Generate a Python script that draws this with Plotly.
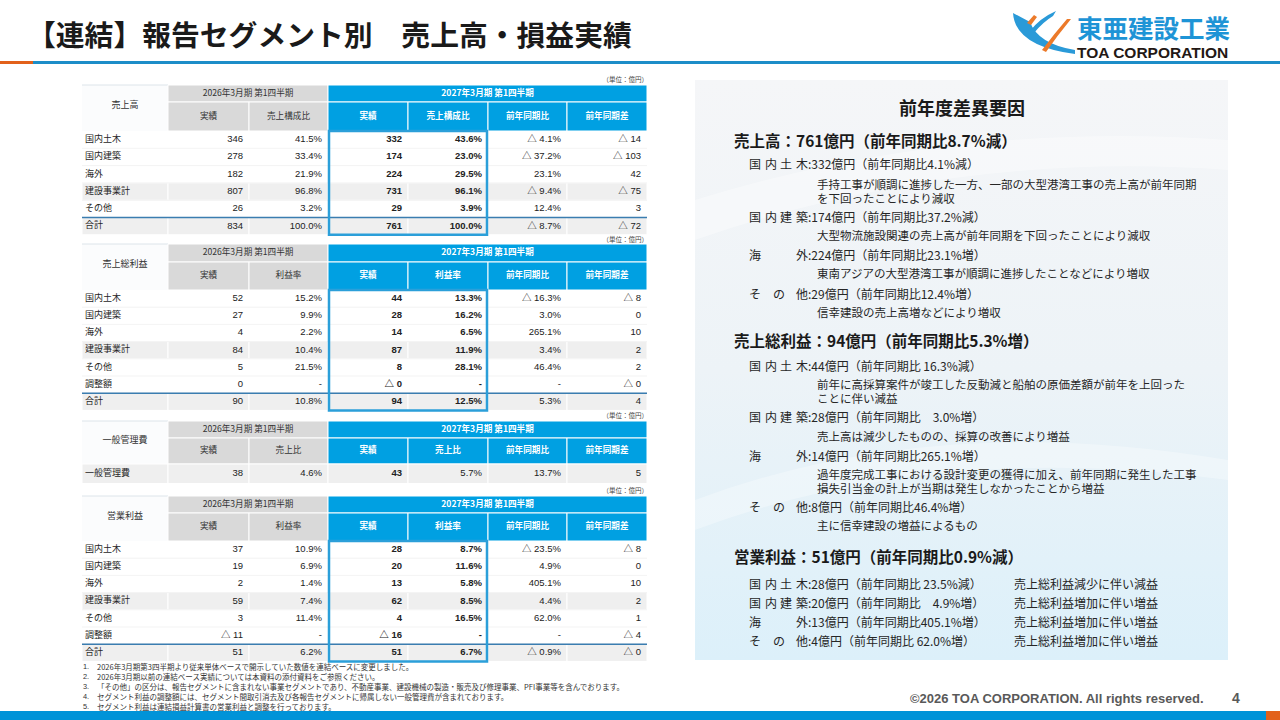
import base64
import math
import plotly.graph_objects as go

JP = 'Noto Sans CJK JP'
NUM = 'Liberation Sans, Arial, Noto Sans CJK JP'

PREV_PERIOD = '2026年3月期 第1四半期'
CUR_PERIOD = '2027年3月期 第1四半期'

# 売上高
sales_rows = ['国内土木', '国内建築', '海外', '建設事業計', 'その他', '合計']
sales_prev = [346, 278, 182, 807, 26, 834]
sales_prev_ratio = [41.5, 33.4, 21.9, 96.8, 3.2, 100.0]
sales_cur = [332, 174, 224, 731, 29, 761]
sales_cur_ratio = [43.6, 23.0, 29.5, 96.1, 3.9, 100.0]
sales_yoy = [-4.1, -37.2, 23.1, -9.4, 12.4, -8.7]
sales_diff = [-14, -103, 42, -75, 3, -72]

# 売上総利益
gp_rows = ['国内土木', '国内建築', '海外', '建設事業計', 'その他', '調整額', '合計']
gp_prev = [52, 27, 4, 84, 5, 0, 90]
gp_prev_margin = [15.2, 9.9, 2.2, 10.4, 21.5, None, 10.8]
gp_cur = [44, 28, 14, 87, 8, -0.0, 94]
gp_cur_margin = [13.3, 16.2, 6.5, 11.9, 28.1, None, 12.5]
gp_yoy = [-16.3, 3.0, 265.1, 3.4, 46.4, None, 5.3]
gp_diff = [-8, 0, 10, 2, 2, -0.0, 4]

# 一般管理費
sga_rows = ['一般管理費']
sga_prev = [38]
sga_prev_ratio = [4.6]
sga_cur = [43]
sga_cur_ratio = [5.7]
sga_yoy = [13.7]
sga_diff = [5]

# 営業利益
op_rows = ['国内土木', '国内建築', '海外', '建設事業計', 'その他', '調整額', '合計']
op_prev = [37, 19, 2, 59, 3, -11, 51]
op_prev_margin = [10.9, 6.9, 1.4, 7.4, 11.4, None, 6.2]
op_cur = [28, 20, 13, 62, 4, -16, 51]
op_cur_margin = [8.7, 11.6, 5.8, 8.5, 16.5, None, 6.7]
op_yoy = [-23.5, 4.9, 405.1, 4.4, 62.0, None, -0.9]
op_diff = [-8, 0, 10, 2, 1, -4, -0.0]

footnotes = [
    '2026年3月期第3四半期より従来単体ベースで開示していた数値を連結ベースに変更しました。',
    '2026年3月期以前の連結ベース実績については本資料の添付資料をご参照ください。',
    '「その他」の区分は、報告セグメントに含まれない事業セグメントであり、不動産事業、建設機械の製造・販売及び修理事業、PFI事業等を含んでおります。',
    'セグメント利益の調整額には、セグメント間取引消去及び各報告セグメントに帰属しない一般管理費が含まれております。',
    'セグメント利益は連結損益計算書の営業利益と調整を行っております。',
]

panel_title = '前年度差異要因'
panel_sections = [
    ('売上高：761億円（前年同期比8.7%減）', 140, [
        ('国内土木', ':332億円（前年同期比4.1%減）', 163,
         ['手持工事が順調に進捗した一方、一部の大型港湾工事の売上高が前年同期', 'を下回ったことにより減収'], [183.5, 197.5]),
        ('国内建築', ':174億円（前年同期比37.2%減）', 216,
         ['大型物流施設関連の売上高が前年同期を下回ったことにより減収'], [235]),
        ('海外', ':224億円（前年同期比23.1%増）', 254,
         ['東南アジアの大型港湾工事が順調に進捗したことなどにより増収'], [273]),
        ('その他', ':29億円（前年同期比12.4%増）', 293,
         ['信幸建設の売上高増などにより増収'], [312]),
    ]),
    ('売上総利益：94億円（前年同期比5.3%増）', 340, [
        ('国内土木', ':44億円（前年同期比 16.3%減）', 365,
         ['前年に高採算案件が竣工した反動減と船舶の原価差額が前年を上回った', 'ことに伴い減益'], [383.5, 397.5]),
        ('国内建築', ':28億円（前年同期比　3.0%増）', 416,
         ['売上高は減少したものの、採算の改善により増益'], [436]),
        ('海外', ':14億円（前年同期比265.1%増）', 455,
         ['過年度完成工事における設計変更の獲得に加え、前年同期に発生した工事', '損失引当金の計上が当期は発生しなかったことから増益'], [474, 488]),
        ('その他', ':8億円（前年同期比46.4%増）', 506,
         ['主に信幸建設の増益によるもの'], [525]),
    ]),
    ('営業利益：51億円（前年同期比0.9%減）', 556, [
        ('国内土木', ':28億円（前年同期比 23.5%減）', 583, ['売上総利益減少に伴い減益'], None),
        ('国内建築', ':20億円（前年同期比　4.9%増）', 602, ['売上総利益増加に伴い増益'], None),
        ('海外', ':13億円（前年同期比405.1%増）', 621, ['売上総利益増加に伴い増益'], None),
        ('その他', ':4億円（前年同期比 62.0%増）', 640, ['売上総利益増加に伴い増益'], None),
    ]),
]

COL_X = [82, 168, 249, 328, 408, 488, 567, 647]
BLUE = '#00a0e2'
HEAD_GRAY = '#d9d9d9'
ROW_GRAY = '#efefef'
BOX_BLUE = '#2b9fd9'
TOTAL_LINE = '#3a7db0'
INK = '#262626'
ORANGE = '#e2611b'

fig = go.Figure()
shapes = []
annotations = []


def box(x0, y0, x1, y1, fill=None, line=None, width=0, layer='below'):
    shapes.append(dict(type='rect', xref='x', yref='y', x0=x0, y0=y0, x1=x1, y1=y1,
                       fillcolor=fill or 'rgba(0,0,0,0)',
                       line=dict(color=line or 'rgba(0,0,0,0)', width=width), layer=layer))


def hline(x0, x1, y, color, width, layer='above'):
    shapes.append(dict(type='line', xref='x', yref='y', x0=x0, x1=x1, y0=y, y1=y,
                       line=dict(color=color, width=width), layer=layer))


def text_trace(xs, ys, texts, pos, size, color=INK, family=JP):
    fig.add_trace(go.Scatter(x=xs, y=ys, text=texts, mode='text', textposition=pos,
                             textfont=dict(size=size, color=color, family=family),
                             hoverinfo='skip', cliponaxis=False, showlegend=False))


def note(x, y, text, size, color=INK, family=JP, anchor='left'):
    annotations.append(dict(x=x, y=y, xref='x', yref='y', text=text, showarrow=False,
                            xanchor=anchor, yanchor='middle', borderpad=0, align='left',
                            font=dict(size=size, color=color, family=family)))


def fmt(v, pct):
    if v is None:
        return '-'
    s = f'{abs(v):.1f}%' if pct else f'{abs(v):.0f}'
    return '△ ' + s if math.copysign(1, v) < 0 else s


tables = [
    dict(label='売上高', sub='売上構成比', rows=sales_rows,
         cols=[sales_prev, sales_prev_ratio, sales_cur, sales_cur_ratio, sales_yoy, sales_diff],
         unit_y=80, top=85, mid=102, head=131, rh=17.3, gray=[3, 5], total=True, boxed=True, bold=[2, 3]),
    dict(label='売上総利益', sub='利益率', rows=gp_rows,
         cols=[gp_prev, gp_prev_margin, gp_cur, gp_cur_margin, gp_yoy, gp_diff],
         unit_y=240, top=244, mid=262, head=290, rh=17.2, gray=[3, 6], total=True, boxed=True, bold=[2, 3]),
    dict(label='一般管理費', sub='売上比', rows=sga_rows,
         cols=[sga_prev, sga_prev_ratio, sga_cur, sga_cur_ratio, sga_yoy, sga_diff],
         unit_y=416, top=421, mid=438, head=464, rh=19.5, gray=[0], total=False, boxed=False, bold=[2]),
    dict(label='営業利益', sub='利益率', rows=op_rows,
         cols=[op_prev, op_prev_margin, op_cur, op_cur_margin, op_yoy, op_diff],
         unit_y=491, top=496, mid=513, head=541, rh=17.2, gray=[3, 6], total=True, boxed=True, bold=[2, 3]),
]
PCT_COLS = [False, True, False, True, True, False]


def draw_table(t):
    cx = COL_X
    top, mid, head, rh = t['top'], t['mid'], t['head'], t['rh']
    n = len(t['rows'])
    bottom = head + n * rh
    text_trace([cx[7] + 1], [t['unit_y']], ['（単位：億円）'], 'middle left', 6.5, '#444444')

    # header cells
    box(cx[0], top, cx[1], head, '#fbfcfd')
    hline(cx[0], cx[1], top, '#dde4ea', 1, 'below')
    box(cx[1], top, cx[3], mid, HEAD_GRAY, 'white', 1)
    box(cx[3], top, cx[7], mid, BLUE, 'white', 1)
    for j in range(1, 7):
        box(cx[j], mid, cx[j + 1], head, HEAD_GRAY if j < 3 else BLUE, 'white', 1)

    # body rows
    centers = [head + (i + 0.5) * rh for i in range(n)]
    for i in range(n):
        y0 = head + i * rh
        if i in t['gray']:
            for j in range(7):
                box(cx[j], y0, cx[j + 1], y0 + rh, ROW_GRAY, 'white', 1)
        if i > 0:
            hline(cx[0], cx[7], y0, '#ebebeb', 0.6, 'below')
    if t['total']:
        hline(cx[0], cx[7], head + (n - 1) * rh, TOTAL_LINE, 1.4)
    if t['boxed']:
        box(cx[3] + 1, head, cx[5] - 1, bottom, line=BOX_BLUE, width=2.5, layer='above')

    # header text
    text_trace([(cx[0] + cx[1]) / 2], [(top + head) / 2 - 2], [t['label']], 'middle center', 9, '#333333')
    text_trace([(cx[1] + cx[3]) / 2, (cx[1] + cx[2]) / 2, (cx[2] + cx[3]) / 2],
               [(top + mid) / 2, (mid + head) / 2, (mid + head) / 2],
               [PREV_PERIOD, '実績', t['sub']], 'middle center', 8.6, '#333333')
    subs = ['実績', t['sub'], '前年同期比', '前年同期差']
    text_trace([(cx[3] + cx[7]) / 2] + [(cx[j] + cx[j + 1]) / 2 for j in range(3, 7)],
               [(top + mid) / 2] + [(mid + head) / 2] * 4,
               ['<b>' + s + '</b>' for s in [CUR_PERIOD] + subs], 'middle center', 8.6, 'white')

    # body text
    text_trace([cx[0] + 3] * n, centers, t['rows'], 'middle right', 9)
    for j, col in enumerate(t['cols']):
        vals = [fmt(v, PCT_COLS[j]) for v in col]
        if j in t['bold']:
            vals = ['<b>' + v + '</b>' for v in vals]
        text_trace([cx[j + 2] - 6] * n, centers, vals, 'middle left', 9.5, '#222222', NUM)


for t in tables:
    draw_table(t)

# footnotes
for k, line in enumerate(footnotes):
    y = 666 + k * 10.2
    note(82, y, f'{k + 1}.', 7.4, '#333333', NUM)
    note(96, y, line, 7.5, '#333333')

# page frame
box(0, 61, 33, 64, ORANGE)
box(33, 61, 1280, 64, '#1c8dc8')
box(0, 711, 1266, 720, '#0093d8')
box(1266, 711, 1280, 720, ORANGE)
note(26, 33, '<b>【連結】報告セグメント別　売上高・損益実績</b>', 28.8, '#1a1a1a')
note(1205, 698, '<b>©2026 TOA CORPORATION. All rights reserved.</b>', 13, '#595959', NUM, 'right')
note(1236, 698, '<b>4</b>', 14, '#595959', NUM, 'center')

# logo
logo_paths = [
    ('M1013,13 Q1015,46 1075,54 L1075,50 Q1038,44 1030,22 Z', '#2a9ad8'),
    ('M1030,31 Q1040,18 1056,11 L1053,16 Q1043,22 1034,33 Z', '#2a9ad8'),
    ('M1046,52 Q1057,36 1071,19 L1067,19 Q1054,34 1042,50 Z', '#ec7a2a'),
    ('M1027,23 L1034,15 L1037,17 L1031,25 Z', '#ec7a2a'),
]
for p, c in logo_paths:
    shapes.append(dict(type='path', xref='x', yref='y', path=p, fillcolor=c,
                       line=dict(width=0), layer='above'))
note(1076, 34, ('<b><span style="color:#1e94d6;font-size:25.5px;font-family:Noto Sans CJK JP">'
                '東亜建設工業</span><br>TOA CORPORATION</b>'), 15.5, '#231815', NUM)

# right panel
svg = ('<svg xmlns="http://www.w3.org/2000/svg" width="533" height="580" viewBox="0 0 533 580">'
       '<defs><linearGradient id="g" x1="0" y1="0" x2="0" y2="1">'
       '<stop offset="0" stop-color="#f5f6f8"/><stop offset="0.5" stop-color="#edf3f7"/>'
       '<stop offset="1" stop-color="#dcf0fa"/></linearGradient></defs>'
       '<rect width="533" height="580" fill="url(#g)"/>'
       '<path d="M0,120 Q260,40 533,60 L533,90 Q260,70 0,160 Z" fill="#ffffff" opacity="0.35"/>'
       '<path d="M0,420 Q240,330 533,380 L533,400 Q240,360 0,450 Z" fill="#ffffff" opacity="0.3"/>'
       '</svg>')
panel_src = 'data:image/svg+xml;base64,' + base64.b64encode(svg.encode()).decode()
PANEL = (695, 80, 1228, 660)

note((PANEL[0] + PANEL[2]) / 2, 107, '<b>' + panel_title + '</b>', 18, '#1a1a1a', JP, 'center')
for heading, hy, items in panel_sections:
    note(733, hy, '<b>' + heading + '</b>', 15.5, '#1a1a1a')
    for label, value, iy, desc, dys in items:
        chars = list(label)
        for k, ch in enumerate(chars):
            x = 748 + k * (795 - 748) / (len(chars) - 1)
            note(x, iy, ch, 12, '#262626')
        note(807, iy, value, 12, '#262626')
        if dys is None:
            note(1013, iy, desc[0], 12, '#262626')
        else:
            for line, dy in zip(desc, dys):
                note(816, dy, line, 11.5, '#262626')

fig.update_layout(
    width=1280, height=720,
    margin=dict(l=0, r=0, t=0, b=0),
    paper_bgcolor='white', plot_bgcolor='white',
    xaxis=dict(range=[0, 1280], visible=False, fixedrange=True),
    yaxis=dict(range=[720, 0], visible=False, fixedrange=True),
    showlegend=False,
    font=dict(family=JP, color=INK),
    shapes=shapes,
    annotations=annotations,
    images=[dict(source=panel_src, xref='paper', yref='paper',
                 x=PANEL[0] / 1280, y=1 - PANEL[1] / 720,
                 sizex=(PANEL[2] - PANEL[0]) / 1280, sizey=(PANEL[3] - PANEL[1]) / 720,
                 sizing='stretch', xanchor='left', yanchor='top', layer='below')],
)

fig.write_html('out.html', config={'displayModeBar': False},
               post_script="document.body.style.margin='0';")
